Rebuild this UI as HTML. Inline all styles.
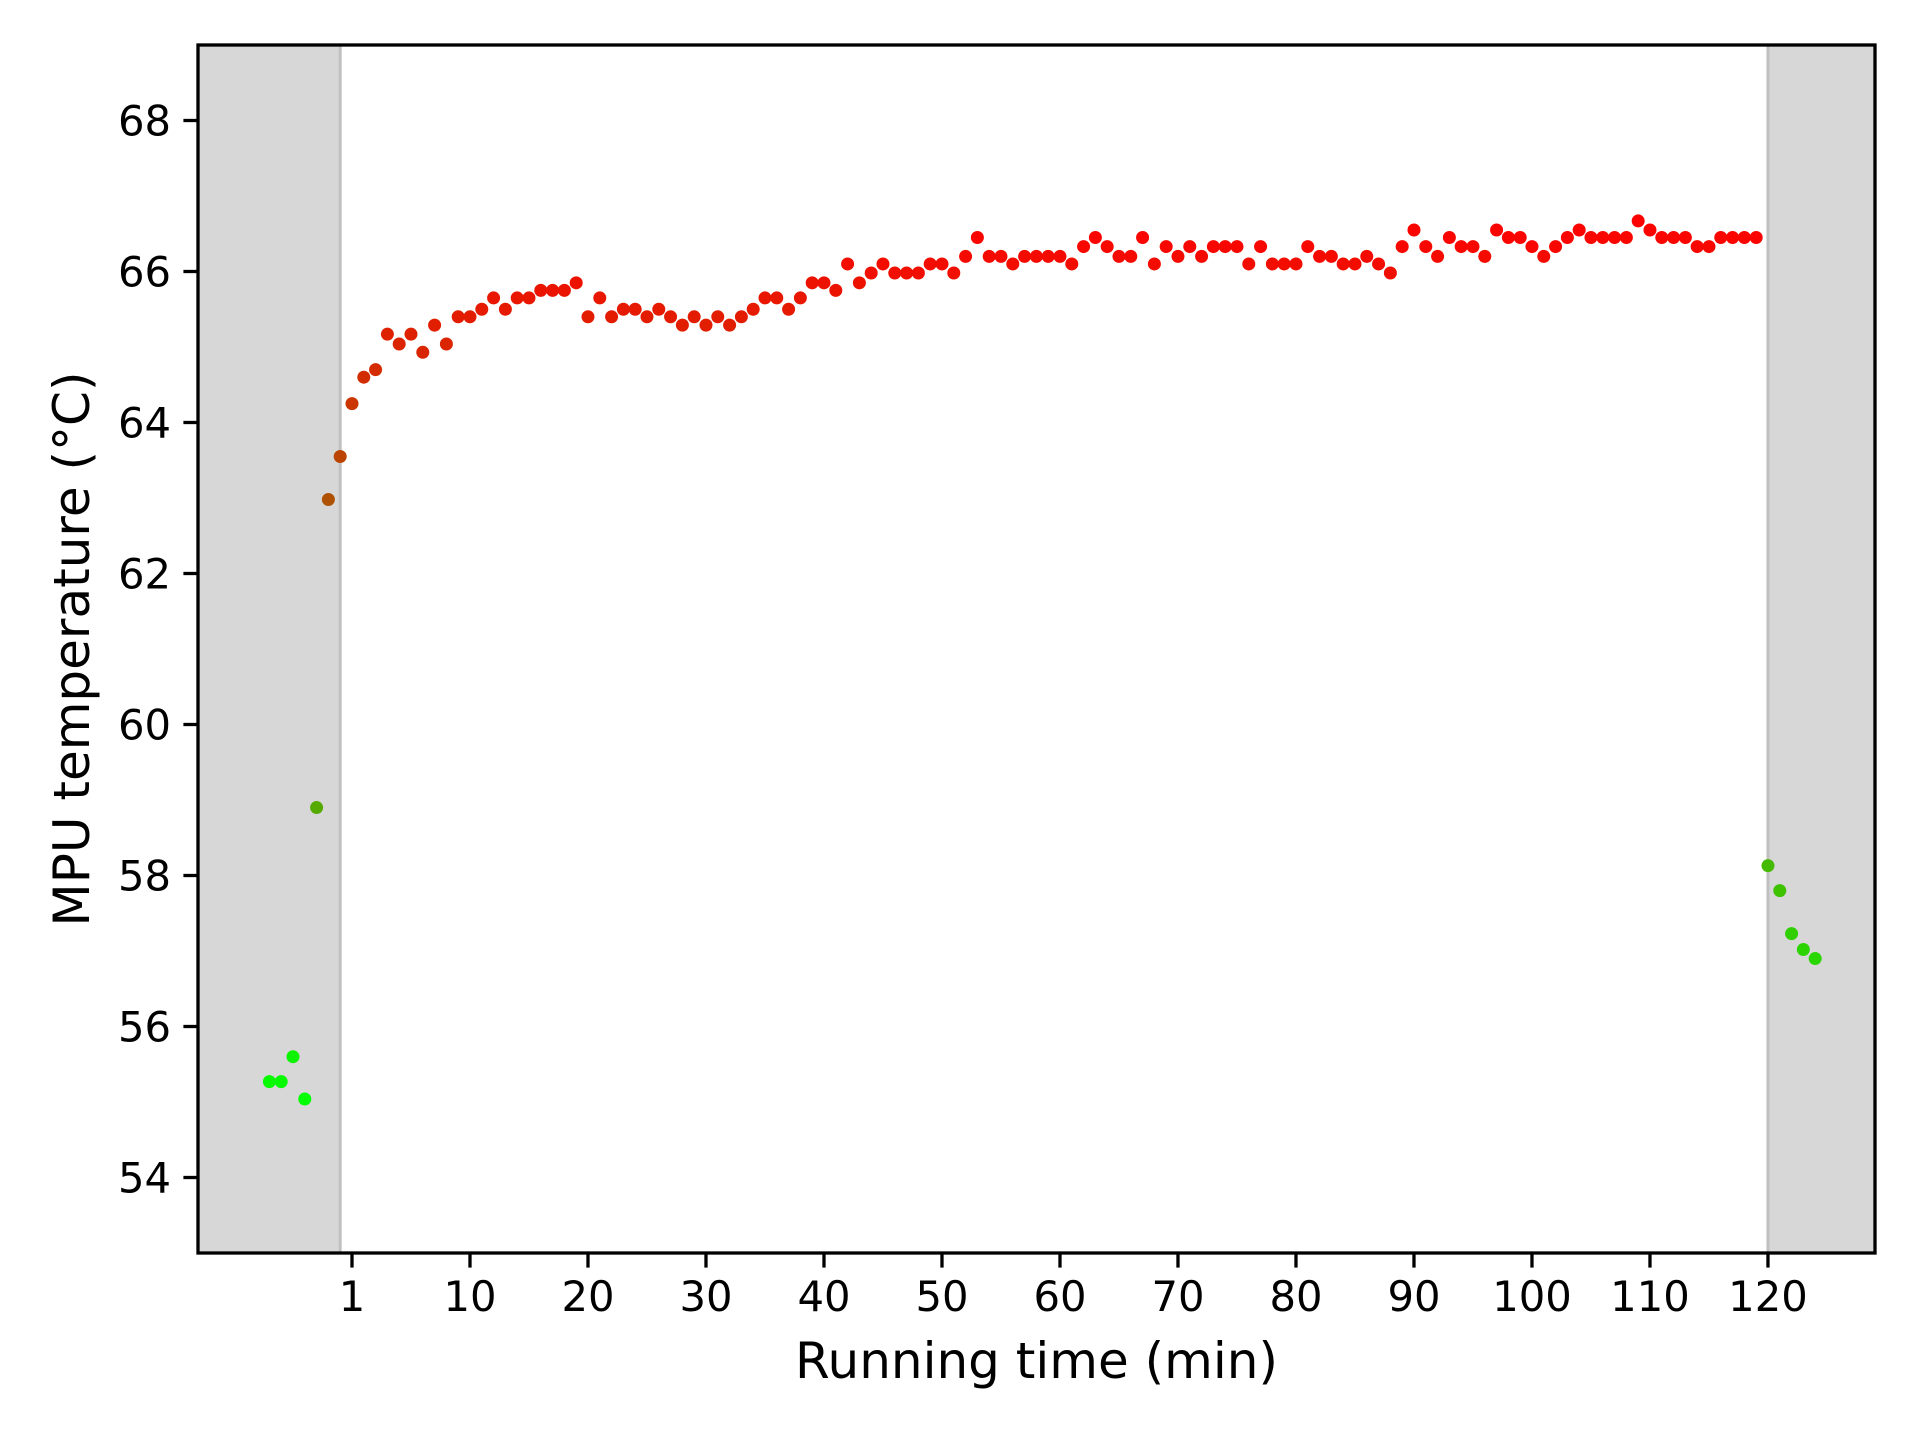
<!DOCTYPE html>
<html><head><meta charset="utf-8"><style>
html,body{margin:0;padding:0;background:#fff;}
svg text{font-family:"DejaVu Sans","Liberation Sans",sans-serif;fill:#000;}
</style></head><body>
<svg id="chart" width="1920" height="1440" viewBox="0 0 1920 1440" xmlns="http://www.w3.org/2000/svg">
<g id="bg"></g><g id="pts"></g><g id="axes"></g>
</svg>
<script>
const times = [-7,-6,-5,-4,-3,-2,-1,0,1,2,3,4,5,6,7,8,9,10,11,12,13,14,15,16,17,18,19,20,21,22,23,24,25,26,27,28,29,30,31,32,33,34,35,36,37,38,39,40,41,42,43,44,45,46,47,48,49,50,51,52,53,54,55,56,57,58,59,60,61,62,63,64,65,66,67,68,69,70,71,72,73,74,75,76,77,78,79,80,81,82,83,84,85,86,87,88,89,90,91,92,93,94,95,96,97,98,99,100,101,102,103,104,105,106,107,108,109,110,111,112,113,114,115,116,117,118,119,120,121,122,123,124];
const temps = [55.27,55.27,55.6,55.04,58.9,62.98,63.55,64.25,64.6,64.7,65.17,65.04,65.17,64.93,65.29,65.04,65.4,65.4,65.5,65.65,65.5,65.65,65.65,65.75,65.75,65.75,65.85,65.4,65.65,65.4,65.5,65.5,65.4,65.5,65.4,65.29,65.4,65.29,65.4,65.29,65.4,65.5,65.65,65.65,65.5,65.65,65.85,65.85,65.75,66.1,65.85,65.98,66.1,65.98,65.98,65.98,66.1,66.1,65.98,66.2,66.45,66.2,66.2,66.1,66.2,66.2,66.2,66.2,66.1,66.33,66.45,66.33,66.2,66.2,66.45,66.1,66.33,66.2,66.33,66.2,66.33,66.33,66.33,66.1,66.33,66.1,66.1,66.1,66.33,66.2,66.2,66.1,66.1,66.2,66.1,65.98,66.33,66.55,66.33,66.2,66.45,66.33,66.33,66.2,66.55,66.45,66.45,66.33,66.2,66.33,66.45,66.55,66.45,66.45,66.45,66.45,66.67,66.55,66.45,66.45,66.45,66.33,66.33,66.45,66.45,66.45,66.45,58.13,57.8,57.23,57.02,56.9];
const xTickVals = [0,10,20,30,40,50,60,70,80,90,100,110,120];
const xTickLabels = ["1","10","20","30","40","50","60","70","80","90","100","110","120"];
const yTickVals = [54,56,58,60,62,64,66,68];
const shadeLeftEnd = -1;
const shadeRightStart = 120;

const L=198,R=1875,T=45,B=1253;
const XMIN=-13.05,XMAX=129.07,YMIN=53,YMAX=69;
const sx=v=>L+(v-XMIN)/(XMAX-XMIN)*(R-L);
const sy=v=>B-(v-YMIN)/(YMAX-YMIN)*(B-T);
const NS="http://www.w3.org/2000/svg";
function mk(tag,attrs,parent){const e=document.createElementNS(NS,tag);for(const k in attrs)e.setAttribute(k,attrs[k]);parent.appendChild(e);return e;}
const bg=document.getElementById('bg'),pts=document.getElementById('pts'),ax=document.getElementById('axes');

let r1=mk('rect',{x:L,y:T,width:sx(shadeLeftEnd)-L,height:B-T,fill:'#d7d7d7'},bg);


let r2=mk('rect',{x:sx(shadeRightStart),y:T,width:R-sx(shadeRightStart),height:B-T,fill:'#d7d7d7'},bg);


let l1=mk('line',{x1:sx(shadeLeftEnd),x2:sx(shadeLeftEnd),y1:T,y2:B,stroke:'#c0c0c0','stroke-width':3},bg);


let l2=mk('line',{x1:sx(shadeRightStart),x2:sx(shadeRightStart),y1:T,y2:B,stroke:'#c0c0c0','stroke-width':3},bg);



const tmin=Math.min(...temps),tmax=Math.max(...temps);
times.forEach((t,i)=>{
  const f=(temps[i]-tmin)/(tmax-tmin);
  const c=`rgb(${Math.round(255*f)},${Math.round(255*(1-f))},0)`;
  const p=mk('circle',{cx:sx(t),cy:sy(temps[i]),r:6.5,fill:c},pts);
  
  
});

let fr=mk('rect',{x:L,y:T,width:R-L,height:B-T,fill:'none',stroke:'#000','stroke-width':3.3},ax);


xTickVals.forEach((v,i)=>{
  const x=sx(v);
  const tk=mk('line',{x1:x,x2:x,y1:B,y2:B+14.6,stroke:'#000','stroke-width':3.3},ax);
  
  
  const tx=mk('text',{x:x,y:B+58,'text-anchor':'middle','font-size':41.7},ax);
  tx.textContent=xTickLabels[i];
  
  
});
yTickVals.forEach(v=>{
  const y=sy(v);
  const tk=mk('line',{x1:L-14.6,x2:L,y1:y,y2:y,stroke:'#000','stroke-width':3.3},ax);
  
  
  const tx=mk('text',{x:L-27,y:y+15,'text-anchor':'end','font-size':41.7},ax);
  tx.textContent=String(v);
  
  
});
let xl=mk('text',{x:(L+R)/2,y:1378,'text-anchor':'middle','font-size':50},ax);
xl.textContent='Running time (min)';


let yl=mk('text',{x:0,y:0,'text-anchor':'middle','font-size':50,transform:`translate(89,${(T+B)/2}) rotate(-90)`},ax);
yl.textContent='MPU temperature (°C)';


</script>
</body></html>
